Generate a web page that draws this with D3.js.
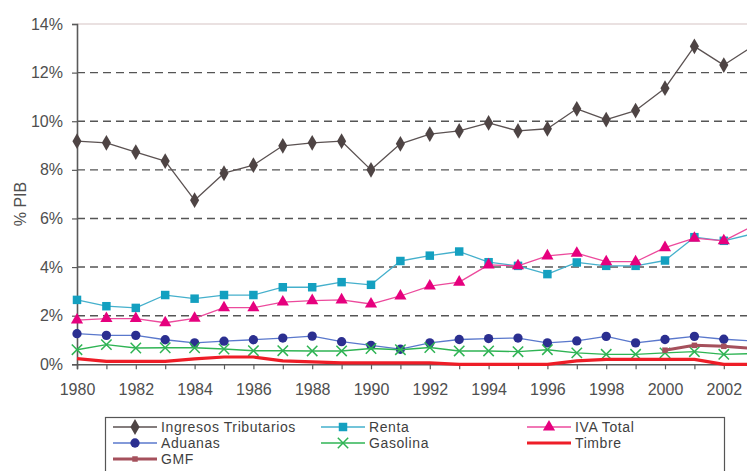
<!DOCTYPE html>
<html lang="es">
<head>
  <meta charset="UTF-8">
  <title>Ingresos tributarios % PIB</title>
  <style>
      body { margin: 0; background: #fff; }
      svg { display: block; font-family: "Liberation Sans", Arial, sans-serif; }
      .tick-label { fill: #4f4f4f; font-size: 16px; }
      .legend-label { fill: #3f3f3f; font-size: 14px; letter-spacing: 0.6px; }
      .grid line { stroke: #555; stroke-width: 1.4; stroke-dasharray: 8 5; }
  </style>
</head>
<body>
<div id="chart"></div>
<script src="https://d3js.org/d3.v7.min.js"></script>
<script>
  const years = d3.range(1980, 2004);
  const yTicks = [0, 2, 4, 6, 8, 10, 12, 14];

  const ingresos = [9.18, 9.11, 8.73, 8.36, 6.75, 7.86, 8.19, 8.99, 9.11, 9.18, 8.0, 9.07,
                    9.47, 9.6, 9.93, 9.6, 9.69, 10.51, 10.07, 10.44, 11.36, 13.08, 12.31, 13.1];
  const renta = [2.65, 2.39, 2.32, 2.85, 2.7, 2.85, 2.85, 3.17, 3.17, 3.38, 3.27, 4.25,
                 4.47, 4.64, 4.2, 4.05, 3.71, 4.19, 4.05, 4.05, 4.27, 5.23, 5.08, 5.37];
  const iva = [1.82, 1.88, 1.88, 1.71, 1.89, 2.33, 2.33, 2.56, 2.62, 2.65, 2.48, 2.81,
               3.22, 3.38, 4.09, 4.05, 4.46, 4.57, 4.22, 4.22, 4.8, 5.19, 5.08, 5.7];
  const aduanas = [1.26, 1.19, 1.19, 1.01, 0.88, 0.95, 1.01, 1.08, 1.16, 0.93, 0.78, 0.62,
                   0.88, 1.02, 1.06, 1.08, 0.88, 0.96, 1.15, 0.88, 1.02, 1.15, 1.03, 0.96];
  const gasolina = [0.6, 0.81, 0.67, 0.68, 0.68, 0.63, 0.56, 0.56, 0.55, 0.55, 0.65, 0.6,
                    0.69, 0.55, 0.55, 0.52, 0.6, 0.47, 0.41, 0.41, 0.47, 0.52, 0.41, 0.44];
  const timbre = [0.23, 0.12, 0.12, 0.12, 0.22, 0.3, 0.3, 0.14, 0.1, 0.06, 0.06, 0.06,
                  0.06, 0, 0, 0, 0, 0.14, 0.2, 0.2, 0.2, 0.2, 0, 0];
  const gmfYears = [2000, 2001, 2002, 2003];
  const gmf = [0.58, 0.78, 0.74, 0.65];

  const W = 747, H = 471;
  const plotLeft = 77, plotTop = 24, plotBottom = 364.3;
  const perYear = 29.4;

  const svg = d3.select("#chart").append("svg")
    .attr("width", W)
    .attr("height", H);

  const x = d3.scaleLinear()
    .domain([1980, 2004])
    .range([plotLeft, plotLeft + 24 * perYear]);

  const y = d3.scaleLinear()
    .domain([0, 14])
    .range([plotBottom, plotTop]);

  // dashed gridlines
  svg.append("g")
    .attr("class", "grid")
    .selectAll("line")
    .data(yTicks.filter(d => d > 0 && d < 14))
    .enter().append("line")
    .attr("x1", plotLeft)
    .attr("x2", W)
    .attr("y1", d => y(d))
    .attr("y2", d => y(d));

  // top border of plot area
  svg.append("line")
    .attr("x1", plotLeft).attr("x2", W)
    .attr("y1", y(14)).attr("y2", y(14))
    .attr("stroke", "#d6c4c4")
    .attr("stroke-width", 1.2);

  // y axis
  const yAxis = svg.append("g")
    .attr("transform", `translate(${plotLeft},0)`)
    .call(d3.axisLeft(y).tickValues(yTicks).tickSize(5).tickPadding(9).tickFormat(d => d + "%"));
  yAxis.select(".domain").attr("stroke", "#5a5a5a").attr("stroke-width", 1.6);
  yAxis.selectAll(".tick line").attr("stroke", "#5a5a5a").attr("stroke-width", 1.2);
  yAxis.selectAll("text").attr("class", "tick-label");
  yAxis.attr("font-size", null).attr("font-family", null);

  // x axis
  const xAxis = svg.append("g")
    .attr("transform", `translate(0,${plotBottom})`)
    .call(d3.axisBottom(x).tickValues(years).tickSize(5).tickPadding(14)
      .tickFormat(d => (d % 2 === 0 ? d : "")));
  xAxis.select(".domain").attr("stroke", "#5a5a5a").attr("stroke-width", 1.6);
  xAxis.selectAll(".tick line").attr("stroke", "#5a5a5a").attr("stroke-width", 1.2);
  xAxis.selectAll("text").attr("class", "tick-label");
  xAxis.attr("font-size", null).attr("font-family", null);

  // y axis title
  svg.append("text")
    .attr("transform", "translate(26,204) rotate(-90)")
    .attr("text-anchor", "middle")
    .attr("class", "tick-label")
    .text("% PIB");

  const series = [
    {name: "Ingresos Tributarios", xs: years, vals: ingresos, line: "#5b5252", mark: "#4e4444", width: 1.3, shape: "diamond"},
    {name: "Renta", xs: years, vals: renta, line: "#45b0cc", mark: "#14a0c0", width: 1.3, shape: "square"},
    {name: "IVA Total", xs: years, vals: iva, line: "#ec4a9c", mark: "#e6007e", width: 1.3, shape: "triangle"},
    {name: "Aduanas", xs: years, vals: aduanas, line: "#5a78cc", mark: "#2b2f90", width: 1.3, shape: "circle"},
    {name: "Gasolina", xs: years, vals: gasolina, line: "#2fb454", mark: "#2fb454", width: 1.4, shape: "cross"},
    {name: "Timbre", xs: years, vals: timbre, line: "#ee1d27", mark: null, width: 3.2, shape: null},
    {name: "GMF", xs: gmfYears, vals: gmf, line: "#a5505c", mark: "#a5505c", width: 3, shape: "smallsquare"}
  ];

  const symbolFor = {
    diamond: d3.symbol().type(d3.symbolDiamond).size(72),
    square: d3.symbol().type(d3.symbolSquare).size(72),
    triangle: d3.symbol().type(d3.symbolTriangle).size(64),
    circle: d3.symbol().type(d3.symbolCircle).size(68),
    cross: d3.symbol().type(d3.symbolX).size(72),
    smallsquare: d3.symbol().type(d3.symbolSquare).size(30)
  };

  function drawMarker(g, s, cx, cy) {
    if (!s.shape) return;
    const p = g.append("path")
      .attr("d", symbolFor[s.shape]())
      .attr("transform", `translate(${cx},${cy})`);
    if (s.shape === "cross") {
      p.attr("fill", "none").attr("stroke", s.mark).attr("stroke-width", 1.5);
    } else {
      p.attr("fill", s.mark);
    }
  }

  const line = d3.line();

  series.forEach(s => {
    const pts = s.xs.map((yr, i) => [x(yr), y(s.vals[i])]);
    const g = svg.append("g");
    g.append("path")
      .attr("d", line(pts))
      .attr("fill", "none")
      .attr("stroke", s.line)
      .attr("stroke-width", s.width)
      .attr("stroke-linejoin", "round");
    pts.forEach(p => drawMarker(g, s, p[0], p[1]));
  });

  // legend
  const legend = svg.append("g");
  legend.append("rect")
    .attr("x", 105.5).attr("y", 417.5)
    .attr("width", 619).attr("height", 80)
    .attr("fill", "none")
    .attr("stroke", "#555")
    .attr("stroke-width", 1.2);

  const colX = [113, 321, 527];
  const rowY = [427, 443, 459];
  series.forEach((s, i) => {
    const lx = colX[i % 3], ly = rowY[Math.floor(i / 3)];
    const g = legend.append("g");
    g.append("line")
      .attr("x1", lx).attr("x2", lx + 44)
      .attr("y1", ly).attr("y2", ly)
      .attr("stroke", s.line)
      .attr("stroke-width", s.width);
    drawMarker(g, s, lx + 22, ly);
    g.append("text")
      .attr("x", lx + 48)
      .attr("y", ly)
      .attr("dy", "0.36em")
      .attr("class", "legend-label")
      .text(s.name);
  });
</script>
</body>
</html>
